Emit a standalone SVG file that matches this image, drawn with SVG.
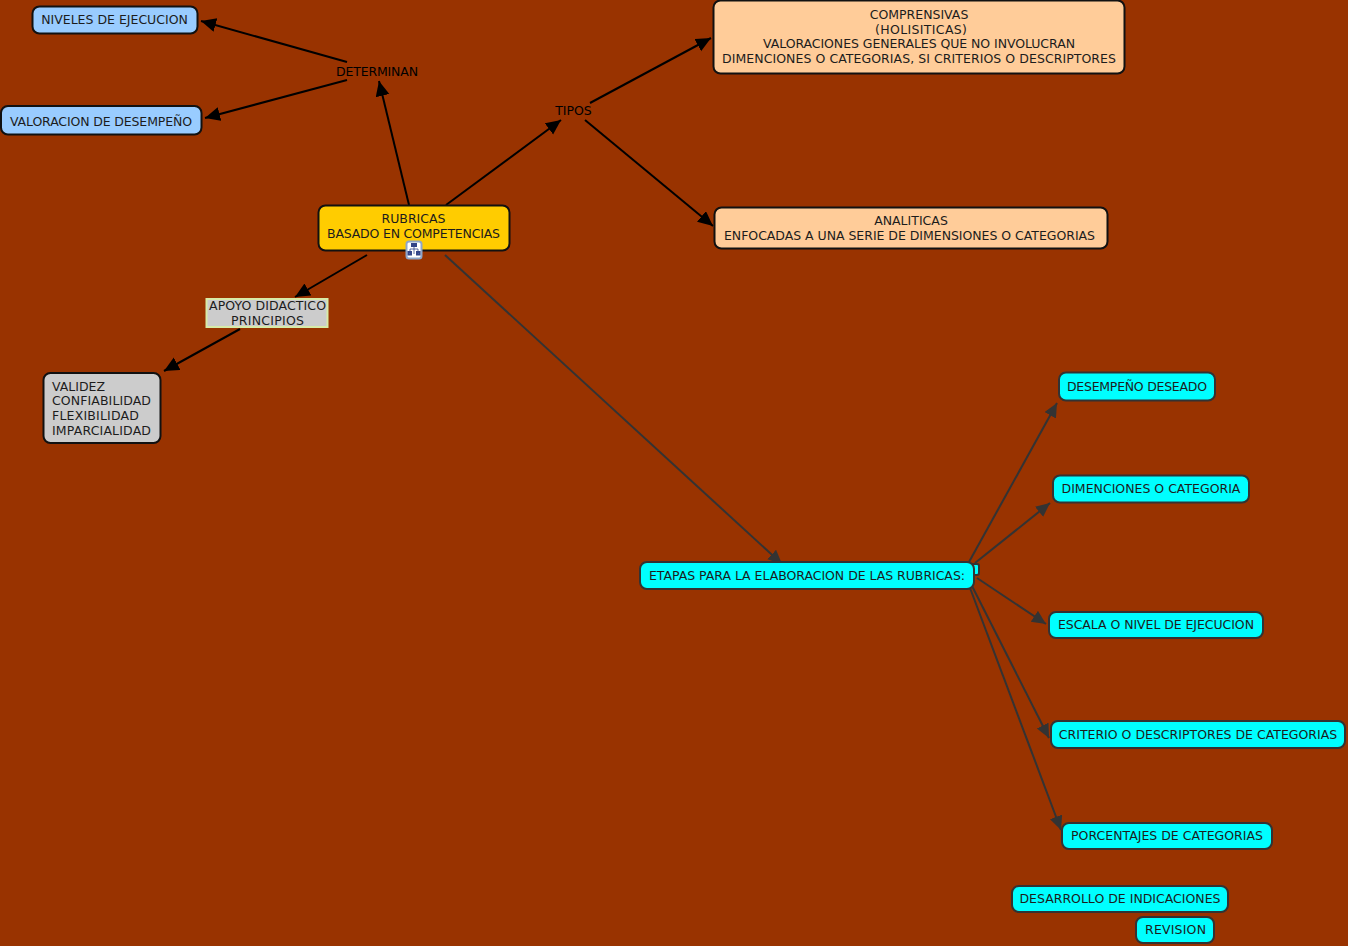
<svg xmlns="http://www.w3.org/2000/svg" width="1348" height="946" viewBox="0 0 1348 946">
<defs>
<marker id="a" markerUnits="userSpaceOnUse" markerWidth="16" markerHeight="15" refX="15" refY="7" orient="auto"><path d="M0 0L15 7L0 14Z" fill="#000"/></marker>
<marker id="b" markerUnits="userSpaceOnUse" markerWidth="16" markerHeight="15" refX="14" refY="6.500" orient="auto"><path d="M0 0L14 6.500L0 13Z" fill="#333"/></marker>
</defs>
<style>
text{font-family:"DejaVu Sans",Verdana,sans-serif;font-size:12.5px;fill:#1c1c1c;text-anchor:middle}
.n rect{stroke-width:2}
.blue rect{fill:#99ccff;stroke:#111}
.peach rect{fill:#ffcc99;stroke:#111}
.gray rect{fill:#cccccc;stroke:#111}
.cy rect{fill:#00ffff;stroke:#333}
.black line{stroke:#000;stroke-width:2;marker-end:url(#a)}
.dark line{stroke:#333;stroke-width:2;marker-end:url(#b)}
.l{text-anchor:start}
.k{fill:#000}
</style>
<rect width="1348" height="946" fill="#993300"/>
<g id="connectors">
<g class="black">
<line x1="347" y1="62" x2="201" y2="21"/>
<line x1="347" y1="80" x2="205" y2="118"/>
<line x1="409" y1="205" x2="379" y2="81"/>
<line x1="446" y1="205" x2="561" y2="120"/>
<line x1="590" y1="103" x2="711" y2="38"/>
<line x1="585" y1="120" x2="713" y2="226"/>
<line x1="367" y1="255" x2="295" y2="297"/>
<line x1="240" y1="329" x2="164" y2="371"/>
</g>
<g class="dark">
<line x1="445" y1="255" x2="782" y2="564"/>
<line x1="969" y1="562" x2="1057" y2="403"/>
<line x1="975" y1="563" x2="1050" y2="503"/>
<line x1="977" y1="578" x2="1046" y2="624"/>
<line x1="972" y1="586" x2="1049" y2="738"/>
<line x1="970" y1="588" x2="1061" y2="830"/>
</g>
</g>
<g id="n-niveles" class="n blue"><rect x="32.500" y="6.500" width="165" height="27" rx="7"/><text x="114.500" y="24">NIVELES DE EJECUCION</text></g>
<g id="n-valoracion" class="n blue"><rect x="1" y="106" width="200.500" height="28.500" rx="7"/><text x="101" y="125.500" textLength="182">VALORACION DE DESEMPEÑO</text></g>
<g id="n-determinan"><text class="k" x="377" y="76" textLength="82">DETERMINAN</text></g>
<g id="n-tipos"><text class="k" x="573.500" y="115">TIPOS</text></g>
<g id="n-comprensivas" class="n peach"><rect x="713.500" y="0.500" width="411" height="73" rx="7"/><text x="919" y="19">COMPRENSIVAS</text><text x="921" y="34" textLength="92">(HOLISITICAS)</text><text x="919" y="48" textLength="312">VALORACIONES GENERALES QUE NO INVOLUCRAN</text><text x="919" y="63" textLength="394">DIMENCIONES O CATEGORIAS, SI CRITERIOS O DESCRIPTORES</text></g>
<g id="n-analiticas" class="n peach"><rect x="714.500" y="207.500" width="393" height="41" rx="7"/><text x="911" y="225">ANALITICAS</text><text x="909.500" y="240" textLength="371">ENFOCADAS A UNA SERIE DE DIMENSIONES O CATEGORIAS</text></g>
<g id="n-rubricas" class="n"><rect x="318.500" y="205.500" width="191" height="45" rx="7" fill="#ffcc00" stroke="#111"/><text x="413.500" y="223">RUBRICAS</text><text x="413.500" y="238" textLength="173">BASADO EN COMPETENCIAS</text>
<g id="icon"><rect x="406.500" y="241.500" width="15" height="17" rx="2.500" fill="#fff" stroke="#8fa6c8" stroke-width="1"/><path d="M414 245V249M410 252V249H418V252M414 249V254" fill="none" stroke="#334488" stroke-width=".8"/><rect x="412" y="244" width="4" height="2" fill="#88aadd" stroke="#334488" stroke-width=".6"/><rect x="408.500" y="252" width="2.500" height="2.500" fill="#88aadd" stroke="#334488" stroke-width=".6"/><rect x="417" y="252" width="2.500" height="2.500" fill="#88aadd" stroke="#334488" stroke-width=".6"/></g></g>
<g id="n-apoyo"><rect x="206.500" y="299" width="121" height="28" fill="#cccccc" stroke="#d8eba8" stroke-width="2"/><text x="267.500" y="310" textLength="117">APOYO DIDACTICO</text><text x="267.500" y="325" textLength="73">PRINCIPIOS</text></g>
<g id="n-validez" class="n gray"><rect x="43.500" y="373" width="117" height="70" rx="7"/><text class="l" x="52" y="391">VALIDEZ</text><text class="l" x="52" y="405" textLength="99">CONFIABILIDAD</text><text class="l" x="52" y="420" textLength="87">FLEXIBILIDAD</text><text class="l" x="52" y="435" textLength="99">IMPARCIALIDAD</text></g>
<g id="n-behind" class="cy n"><rect x="968" y="564" width="11" height="11" rx="2"/></g>
<g id="n-etapas" class="n cy"><rect x="640" y="562" width="334" height="27" rx="7"/><text x="807" y="580" textLength="316">ETAPAS PARA LA ELABORACION DE LAS RUBRICAS:</text></g>
<g id="n-desempeno" class="n cy"><rect x="1059" y="372.500" width="156" height="28" rx="7"/><text x="1137" y="391" textLength="140">DESEMPEÑO DESEADO</text></g>
<g id="n-dimenciones" class="n cy"><rect x="1053" y="475.500" width="196" height="27" rx="7"/><text x="1151" y="493">DIMENCIONES O CATEGORIA</text></g>
<g id="n-escala" class="n cy"><rect x="1049" y="612" width="214" height="26" rx="7"/><text x="1156" y="629" textLength="196">ESCALA O NIVEL DE EJECUCION</text></g>
<g id="n-criterio" class="n cy"><rect x="1051" y="721" width="294" height="27" rx="7"/><text x="1198" y="739">CRITERIO O DESCRIPTORES DE CATEGORIAS</text></g>
<g id="n-porcentajes" class="n cy"><rect x="1062" y="823" width="210" height="26" rx="7"/><text x="1167" y="840">PORCENTAJES DE CATEGORIAS</text></g>
<g id="n-desarrollo" class="n cy"><rect x="1012" y="886" width="216" height="26" rx="7"/><text x="1120" y="903">DESARROLLO DE INDICACIONES</text></g>
<g id="n-revision" class="n cy"><rect x="1136" y="917" width="78" height="26" rx="7"/><text x="1175.500" y="934" textLength="61">REVISION</text></g>
</svg>
